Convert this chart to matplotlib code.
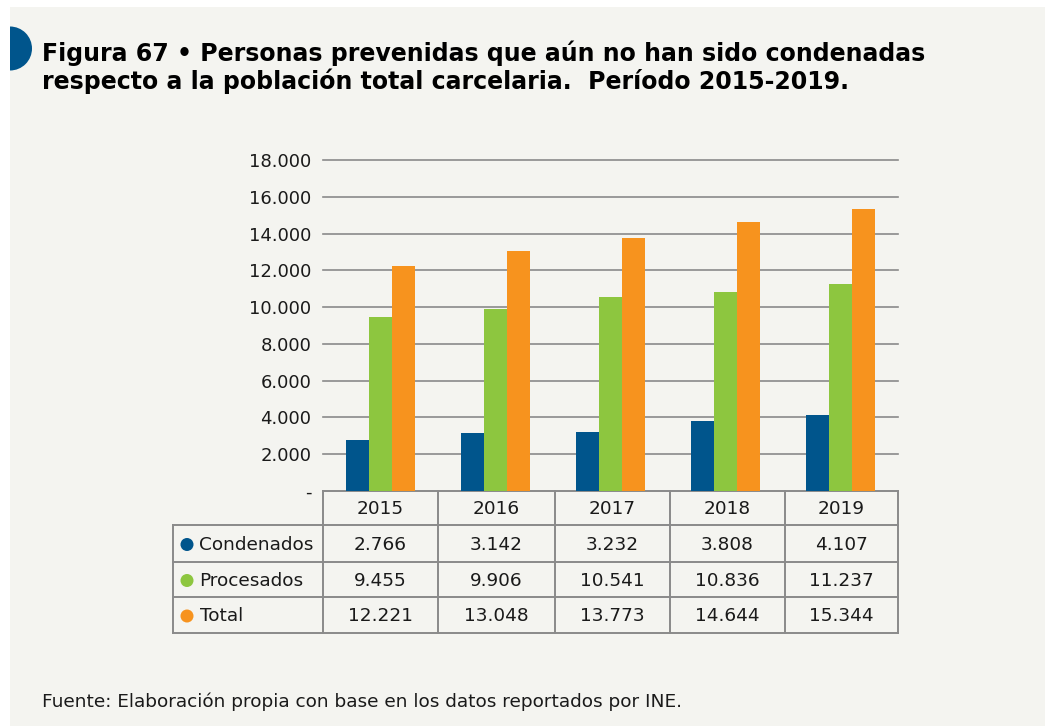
import matplotlib
matplotlib.use("Agg")
import matplotlib.pyplot as plt
from matplotlib.patches import Rectangle, Wedge, Circle

# Data
years = ["2015", "2016", "2017", "2018", "2019"]
series_names = ["Condenados", "Procesados", "Total"]
condenados = [2766, 3142, 3232, 3808, 4107]
procesados = [9455, 9906, 10541, 10836, 11237]
total = [12221, 13048, 13773, 14644, 15344]
y_ticks = [0, 2000, 4000, 6000, 8000, 10000, 12000, 14000, 16000, 18000]
y_tick_labels = ["-", "2.000", "4.000", "6.000", "8.000", "10.000",
                 "12.000", "14.000", "16.000", "18.000"]

title_lines = ["Figura 67 • Personas prevenidas que aún no han sido condenadas",
               "respecto a la población total carcelaria.  Período 2015-2019."]
source = "Fuente: Elaboración propia con base en los datos reportados por INE."

colors = ["#00558c", "#8dc63f", "#f7931e"]
panel_color = "#f4f4f0"
line_color = "#8a8a8a"
text_color = "#1a1a1a"

W, H = 1045, 726
fig = plt.figure(figsize=(W / 100, H / 100), dpi=100)
fig.patch.set_facecolor("white")

def fx(px):
    return px / W

def fy(py):
    return 1 - py / H

# Full-figure overlay in pixel coordinates for panel, title and table
bg = fig.add_axes([0, 0, 1, 1], zorder=0)
bg.set_xlim(0, W)
bg.set_ylim(H, 0)
bg.axis("off")
bg.add_patch(Rectangle((10, 7), W - 10, H - 7, facecolor=panel_color,
                       edgecolor="none"))
bg.add_patch(Wedge((10, 48.5), 22, -90, 90, facecolor="#00558c",
                   edgecolor="none"))
for line, base in zip(title_lines, [60.5, 89.5]):
    bg.text(42, base, line, fontsize=17.0, fontweight="bold", color="black",
            family="DejaVu Sans", va="baseline", ha="left")
bg.text(42, 702, source, fontsize=13.3, color=text_color,
        family="DejaVu Sans", va="center", ha="left")

# Bar chart
x0, x1, ytop, ybot = 323, 898, 160, 491
ax = fig.add_axes([fx(x0), fy(ybot), fx(x1) - fx(x0), fy(ytop) - fy(ybot)],
                  zorder=1)
ax.set_facecolor("none")
n = len(years)
xs = list(range(n))
bw = 0.2
for i, (vals, c) in enumerate(zip([condenados, procesados, total], colors)):
    ax.bar([x + (i - 1) * bw for x in xs], vals, width=bw, color=c,
           zorder=3, linewidth=0)
ax.set_xlim(-0.5, n - 0.5)
ax.set_ylim(0, 18000)
ax.set_yticks(y_ticks)
ax.set_yticklabels(y_tick_labels)
ax.set_xticks([])
for t in y_ticks[1:]:
    ax.axhline(t, color=line_color, linewidth=1.2, zorder=1, clip_on=False)
for s in ax.spines.values():
    s.set_visible(False)
ax.tick_params(axis="y", length=0, pad=8.5, labelsize=13,
               labelcolor=text_color)

# Data table below the chart
col_edges = [173, 323, 438, 555, 670, 785, 898]
row_edges = [491, 525, 562, 597, 633]
lw = 1.4
# header row (years only)
bg.plot([323, 898], [491, 491], color=line_color, lw=lw, zorder=2)
for r in row_edges[1:]:
    bg.plot([173, 898], [r, r], color=line_color, lw=lw, zorder=2)
for c in col_edges[1:]:
    bg.plot([c, c], [491, 633], color=line_color, lw=lw, zorder=2)
bg.plot([173, 173], [525, 633], color=line_color, lw=lw, zorder=2)

cell_fs = 13.3
for j, yr in enumerate(years):
    cx = (col_edges[j + 1] + col_edges[j + 2]) / 2
    bg.text(cx, (row_edges[0] + row_edges[1]) / 2 + 1, yr, fontsize=cell_fs,
            ha="center", va="center", color=text_color)

rows = [condenados, procesados, total]
for i, (name, vals, c) in enumerate(zip(series_names, rows, colors)):
    cy = (row_edges[i + 1] + row_edges[i + 2]) / 2 + 1
    bg.add_patch(Circle((187, cy), 6.5, facecolor=c, edgecolor="none"))
    bg.text(199.5, cy, name, fontsize=cell_fs, ha="left", va="center",
            color=text_color)
    for j, v in enumerate(vals):
        cx = (col_edges[j + 1] + col_edges[j + 2]) / 2
        bg.text(cx, cy, f"{v:,}".replace(",", "."), fontsize=cell_fs,
                ha="center", va="center", color=text_color)

fig.savefig("out.png", dpi=100, facecolor=fig.get_facecolor())
